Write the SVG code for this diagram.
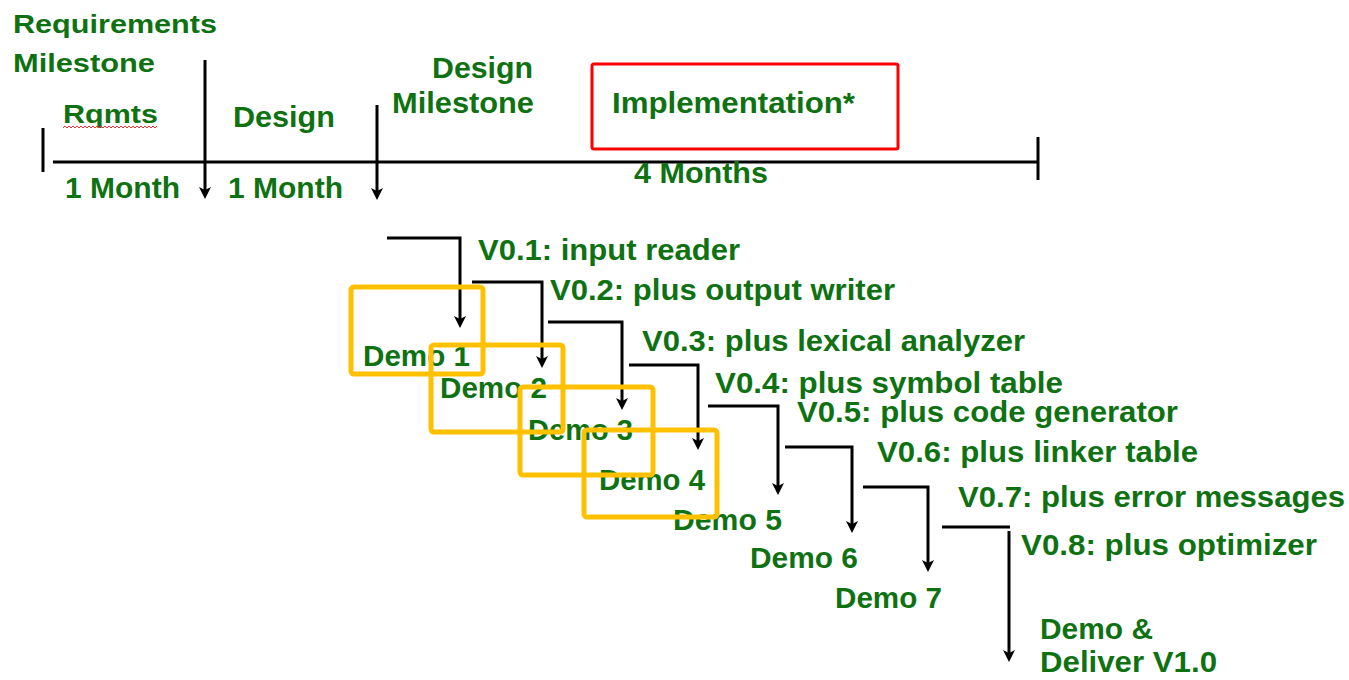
<svg xmlns="http://www.w3.org/2000/svg" width="1349" height="680" viewBox="0 0 1349 680">
<style>
text{font-family:"Liberation Sans",Arial,sans-serif;font-weight:bold;fill:#0f7212;}
.t{font-size:29px;}
.s{font-size:26px;}
.ln{fill:none;stroke:#000;stroke-width:3;}
.ob{fill:none;stroke:#FFC000;stroke-width:5;}
</style>
<defs>
<marker id="ah" markerUnits="userSpaceOnUse" viewBox="-6 -7 14 14" markerWidth="14" markerHeight="14" refX="0" refY="0" orient="auto" overflow="visible">
<path d="M7,0 L-5,-6 L-2,0 L-5,6 Z" fill="#000"/>
</marker>
</defs>
<rect width="1349" height="680" fill="#fff"/>

<g id="timeline">
<line class="ln" x1="43" y1="128" x2="43" y2="172"/>
<line class="ln" x1="53" y1="162" x2="1038" y2="162"/>
<line class="ln" x1="1038" y1="137" x2="1038" y2="180"/>
</g>

<g id="req-milestone">
<text class="s" x="13" y="33" textLength="204" lengthAdjust="spacingAndGlyphs">Requirements</text>
<text class="s" x="13" y="72" textLength="142" lengthAdjust="spacingAndGlyphs">Milestone</text>
</g>
<g id="rqmts">
<text class="s" x="63" y="123" textLength="95" lengthAdjust="spacingAndGlyphs">Rqmts</text>
<path d="M63,128 l2,-2 l2,2 l2,-2 l2,2 l2,-2 l2,2 l2,-2 l2,2 l2,-2 l2,2 l2,-2 l2,2 l2,-2 l2,2 l2,-2 l2,2 l2,-2 l2,2 l2,-2 l2,2 l2,-2 l2,2 l2,-2 l2,2 l2,-2 l2,2 l2,-2 l2,2 l2,-2 l2,2 l2,-2 l2,2 l2,-2 l2,2 l2,-2 l2,2 l2,-2 l2,2 l2,-2 l2,2 l2,-2 l2,2 l2,-2 l2,2 l2,-2 l2,2 l2,-2" fill="none" stroke="#e83030" stroke-width="1"/>
<text class="t" x="65" y="198" textLength="115" lengthAdjust="spacingAndGlyphs">1 Month</text>
</g>
<g id="design">
<text class="t" x="233" y="127" textLength="102" lengthAdjust="spacingAndGlyphs">Design</text>
<text class="t" x="228" y="198" textLength="115" lengthAdjust="spacingAndGlyphs">1 Month</text>
</g>
<g id="design-milestone">
<text class="t" x="432" y="78" textLength="101" lengthAdjust="spacingAndGlyphs">Design</text>
<text class="t" x="392" y="113" textLength="142" lengthAdjust="spacingAndGlyphs">Milestone</text>
</g>
<g id="implementation">
<rect x="592" y="64" width="306" height="85" rx="2" fill="none" stroke="#FF0000" stroke-width="3"/>
<text class="t" x="612" y="113" textLength="243" lengthAdjust="spacingAndGlyphs">Implementation*</text>
<text class="t" x="634" y="183" textLength="134" lengthAdjust="spacingAndGlyphs">4 Months</text>
</g>

<g id="connectors">
<line class="ln" x1="205" y1="60" x2="205" y2="192" marker-end="url(#ah)"/>
<line class="ln" x1="377" y1="105" x2="377" y2="193" marker-end="url(#ah)"/>
<polyline class="ln" points="387,238 460,238 460,321" marker-end="url(#ah)"/>
<polyline class="ln" points="472,282 542,282 542,361" marker-end="url(#ah)"/>
<polyline class="ln" points="548,322 622,322 622,403" marker-end="url(#ah)"/>
<polyline class="ln" points="629,365 698,365 698,443" marker-end="url(#ah)"/>
<polyline class="ln" points="708,406 778,406 778,488" marker-end="url(#ah)"/>
<polyline class="ln" points="785,447 852,447 852,526" marker-end="url(#ah)"/>
<polyline class="ln" points="863,487 928,487 928,565" marker-end="url(#ah)"/>
<line class="ln" x1="942" y1="527" x2="1010" y2="527"/>
<line class="ln" x1="1009" y1="531" x2="1009" y2="655" marker-end="url(#ah)"/>
</g>

<g id="v01"><text class="t" x="478" y="260" textLength="262" lengthAdjust="spacingAndGlyphs">V0.1: input reader</text></g>
<g id="v02"><text class="t" x="550" y="300" textLength="345" lengthAdjust="spacingAndGlyphs">V0.2: plus output writer</text></g>
<g id="v03"><text class="t" x="642" y="351" textLength="383" lengthAdjust="spacingAndGlyphs">V0.3: plus lexical analyzer</text></g>
<g id="v04"><text class="t" x="715" y="393" textLength="348" lengthAdjust="spacingAndGlyphs">V0.4: plus symbol table</text></g>
<g id="v05"><text class="t" x="797" y="422" textLength="381" lengthAdjust="spacingAndGlyphs">V0.5: plus code generator</text></g>
<g id="v06"><text class="t" x="877" y="462" textLength="321" lengthAdjust="spacingAndGlyphs">V0.6: plus linker table</text></g>
<g id="v07"><text class="t" x="958" y="507" textLength="387" lengthAdjust="spacingAndGlyphs">V0.7: plus error messages</text></g>
<g id="v08"><text class="t" x="1021" y="555" textLength="296" lengthAdjust="spacingAndGlyphs">V0.8: plus optimizer</text></g>

<g id="demo1"><text class="t" x="363" y="366" textLength="107" lengthAdjust="spacingAndGlyphs">Demo 1</text></g>
<g id="demo2"><text class="t" x="440" y="398" textLength="107" lengthAdjust="spacingAndGlyphs">Demo 2</text></g>
<g id="demo3"><text class="t" x="528" y="440" textLength="105" lengthAdjust="spacingAndGlyphs">Demo 3</text></g>
<g id="demo4"><text class="t" x="599" y="490" textLength="106" lengthAdjust="spacingAndGlyphs">Demo 4</text></g>
<g id="demo5"><text class="t" x="673" y="530" textLength="109" lengthAdjust="spacingAndGlyphs">Demo 5</text></g>
<g id="demo6"><text class="t" x="750" y="568" textLength="108" lengthAdjust="spacingAndGlyphs">Demo 6</text></g>
<g id="demo7"><text class="t" x="835" y="608" textLength="107" lengthAdjust="spacingAndGlyphs">Demo 7</text></g>
<g id="deliver">
<text class="t" x="1040" y="639" textLength="113" lengthAdjust="spacingAndGlyphs">Demo &amp;</text>
<text class="t" x="1040" y="672" textLength="177" lengthAdjust="spacingAndGlyphs">Deliver V1.0</text>
</g>

<g id="highlight-boxes">
<rect class="ob" x="351" y="287" width="132" height="87" rx="3"/>
<rect class="ob" x="431" y="345" width="132" height="87" rx="3"/>
<rect class="ob" x="520" y="387" width="133" height="88" rx="3"/>
<rect class="ob" x="584" y="430" width="133" height="87" rx="3"/>
</g>
</svg>
